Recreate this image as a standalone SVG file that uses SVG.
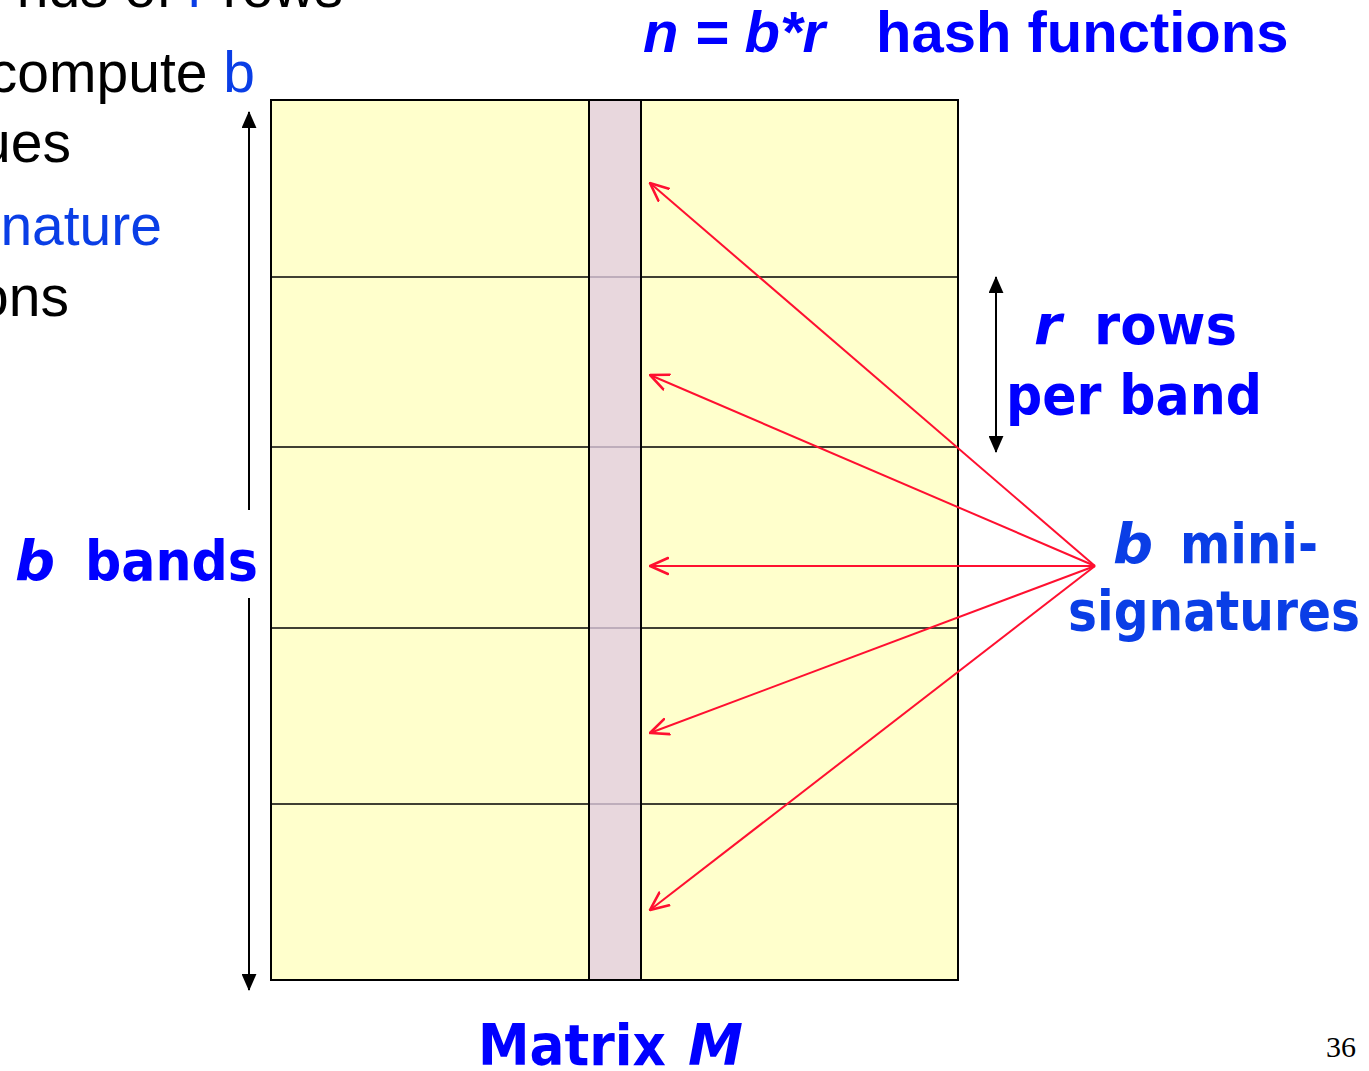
<svg xmlns="http://www.w3.org/2000/svg" width="1369" height="1071" viewBox="0 0 1369 1071">
<style>
.body{font-family:"Liberation Sans",Arial,sans-serif;font-size:57px;fill:#000}
.lb{fill:#0a3ee6}
.bold{font-family:"DejaVu Sans","Liberation Sans",sans-serif;font-weight:bold;fill:#0000ff}
.ab{font-family:"Liberation Sans",Arial,sans-serif;font-weight:bold;fill:#0000ff;font-size:58px}
.it{font-style:italic}
.red{stroke:#ff1030;stroke-width:2;fill:none;marker-end:url(#open)}
.blk{stroke:#000;stroke-width:2;fill:none}
</style>
<defs>
<marker id="open" viewBox="0 0 20 20" refX="19" refY="10" markerWidth="20" markerHeight="20" markerUnits="userSpaceOnUse" orient="auto">
<path d="M1,2 L19,10 L1,18" fill="none" stroke="#ff1030" stroke-width="2.6" stroke-linecap="round"/>
</marker>
<marker id="tri" viewBox="0 0 16 14" refX="15" refY="7" markerWidth="17" markerHeight="15" markerUnits="userSpaceOnUse" orient="auto-start-reverse">
<path d="M0,0 L16,7 L0,14 Z" fill="#000"/>
</marker>
</defs>
<rect width="1369" height="1071" fill="#fff"/>

<g id="bullet-text" class="body">
<text x="343" y="7" text-anchor="end">nds of <tspan class="lb">r</tspan> rows</text>
<text x="255" y="92" text-anchor="end">compute <tspan class="lb">b</tspan></text>
<text x="71" y="162" text-anchor="end">ues</text>
<text x="162" y="245" text-anchor="end" class="lb">nature</text>
<text x="69" y="316" text-anchor="end">ons</text>
</g>

<g id="matrix">
<rect x="271" y="100" width="687" height="880" fill="#ffffcc" stroke="#000" stroke-width="2"/>
<g stroke="#000" stroke-width="1.6">
<line x1="271" y1="277" x2="958" y2="277"/>
<line x1="271" y1="447" x2="958" y2="447"/>
<line x1="271" y1="628" x2="958" y2="628"/>
<line x1="271" y1="804" x2="958" y2="804"/>
</g>
</g>
<g id="column">
<rect x="589" y="100" width="52" height="880" fill="#e2cce2" fill-opacity="0.78" stroke="#000" stroke-width="2"/>
</g>

<g id="connectors">
<line class="blk" x1="249" y1="510" x2="249" y2="112" marker-end="url(#tri)"/>
<line class="blk" x1="249" y1="598" x2="249" y2="990" marker-end="url(#tri)"/>
<line class="blk" x1="996" y1="277" x2="996" y2="452" marker-start="url(#tri)" marker-end="url(#tri)"/>
<line class="red" x1="1095" y1="566" x2="650" y2="183"/>
<line class="red" x1="1095" y1="566" x2="650" y2="375"/>
<line class="red" x1="1095" y1="566" x2="650" y2="566"/>
<line class="red" x1="1095" y1="566" x2="650" y2="733"/>
<line class="red" x1="1095" y1="566" x2="650" y2="910"/>
</g>

<g id="title">
<text class="ab" y="52"><tspan x="643" class="it">n = b*r</tspan><tspan x="876">hash functions</tspan></text>
</g>

<g id="label-bands">
<text class="bold" font-size="56" y="580"><tspan x="15" class="it">b</tspan><tspan x="85" textLength="173" lengthAdjust="spacingAndGlyphs">bands</tspan></text>
</g>

<g id="label-rows">
<text class="bold" font-size="56" y="344"><tspan x="1034" class="it">r</tspan><tspan x="1094" textLength="143" lengthAdjust="spacingAndGlyphs">rows</tspan></text>
<text class="bold" font-size="56" y="414" x="1006" textLength="256" lengthAdjust="spacingAndGlyphs">per band</text>
</g>

<g id="label-mini">
<text class="bold" font-size="56" y="563" style="fill:#0a3ee6"><tspan x="1113" class="it">b</tspan><tspan x="1180" textLength="138" lengthAdjust="spacingAndGlyphs">mini-</tspan></text>
<text class="bold" font-size="56" y="630" x="1068" textLength="292" lengthAdjust="spacingAndGlyphs" style="fill:#0a3ee6">signatures</text>
</g>

<g id="label-matrix">
<text class="bold" font-size="57" y="1065"><tspan x="478" textLength="188" lengthAdjust="spacingAndGlyphs">Matrix</tspan><tspan x="688" class="it" textLength="55" lengthAdjust="spacingAndGlyphs">M</tspan></text>
</g>

<text x="1356" y="1057" text-anchor="end" font-family="Liberation Serif,Times New Roman,serif" font-size="30" fill="#000">36</text>
</svg>
